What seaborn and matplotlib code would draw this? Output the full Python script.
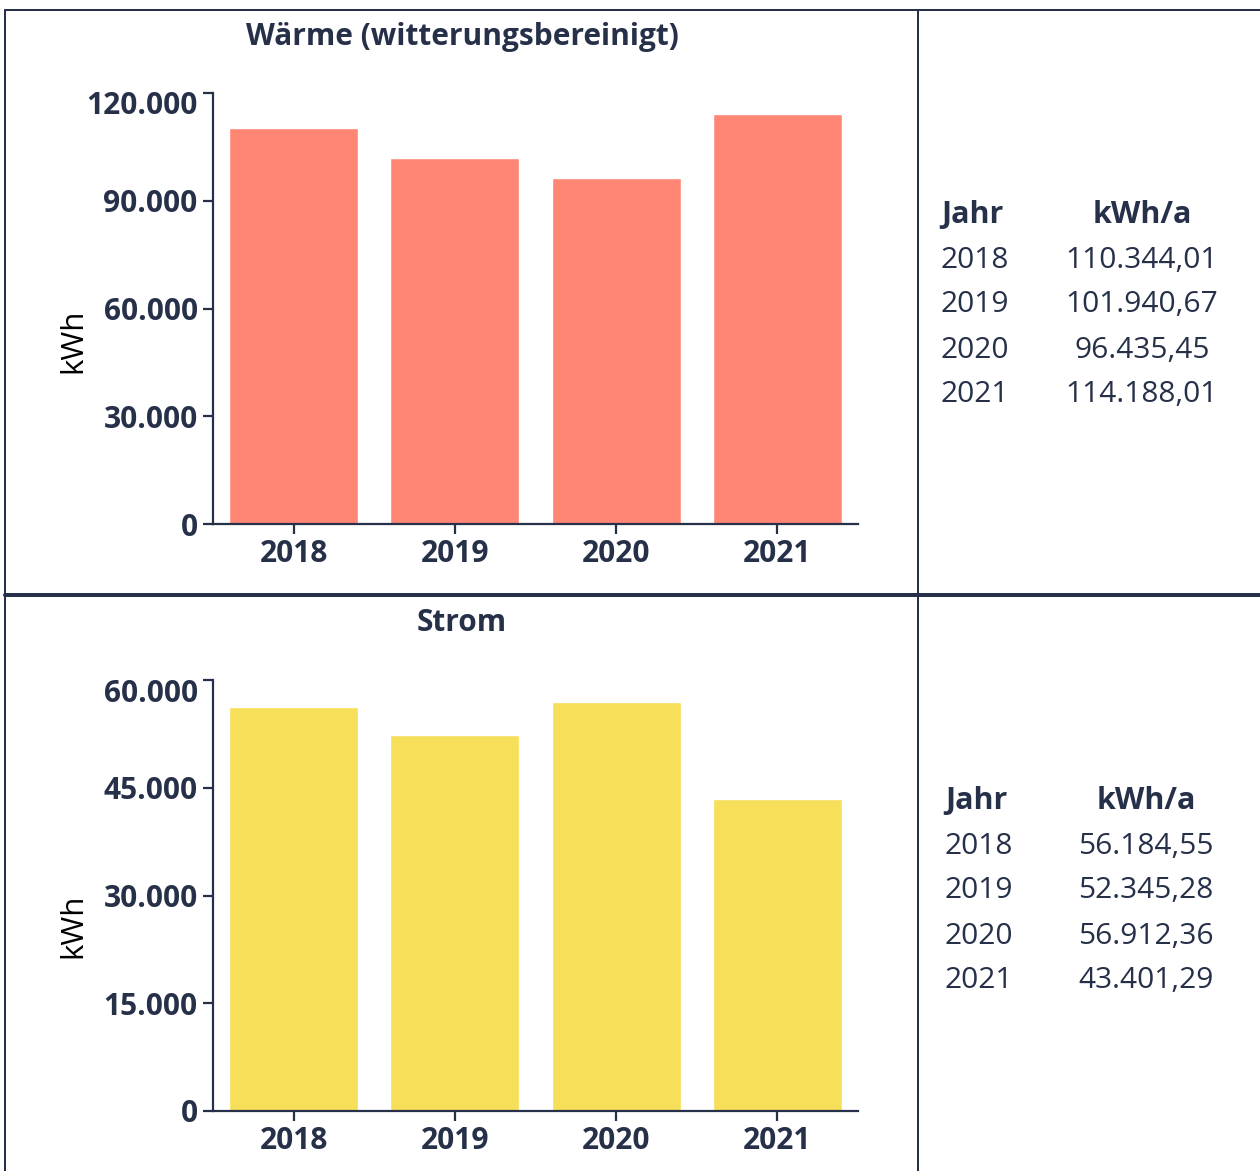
import matplotlib
matplotlib.use("Agg")
import matplotlib.pyplot as plt
import matplotlib.transforms as mtransforms
import seaborn as sns
import pandas as pd
from matplotlib.lines import Line2D
from matplotlib.ticker import FuncFormatter

years = ["2018", "2019", "2020", "2021"]
waerme = [110344.01, 101940.67, 96435.45, 114188.01]
strom = [56184.55, 52345.28, 56912.36, 43401.29]
waerme_ticks = [0, 30000, 60000, 90000, 120000]
strom_ticks = [0, 15000, 30000, 45000, 60000]
waerme_title = "Wärme (witterungsbereinigt)"
strom_title = "Strom"
ylabel = "kWh"
table_head = ["Jahr", "kWh/a"]

sns.set_theme(style="white")
plt.rcParams['font.family'] = ['Open Sans', 'DejaVu Sans']

NAVY = "#263049"
SALMON = "#FF8674"
YELLOW = "#F7DF5A"

W, H = 1260, 1171
fig = plt.figure(figsize=(W / 100, H / 100), dpi=100)


def fx(px):
    return px / W


def fy(py):
    return 1 - py / H


def de_fmt(v, dec=0):
    s = f"{v:,.{dec}f}"
    return s.replace(",", "X").replace(".", ",").replace("X", ".")


def panel(vals, ticks, color, title, top_px, bot_px, title_y, label_y, tbl_x, tbl_cx, tbl_y):
    ax = fig.add_axes([fx(213), fy(bot_px), fx(858 - 213), fy(top_px) - fy(bot_px)])
    df = pd.DataFrame({"year": years, "val": vals})
    sns.barplot(data=df, x="year", y="val", color=color, saturation=1, width=0.8, ax=ax)
    ax.set_xlim(-0.5, 3.5)
    ax.set_ylim(ticks[0], ticks[-1])
    ax.set_yticks(ticks)
    ax.yaxis.set_major_formatter(FuncFormatter(lambda v, p: de_fmt(v)))
    ax.set_xlabel("")
    ax.set_ylabel("")
    for s in ["top", "right"]:
        ax.spines[s].set_visible(False)
    for s in ["left", "bottom"]:
        ax.spines[s].set_color(NAVY)
        ax.spines[s].set_linewidth(1.6)
    ax.tick_params(axis="both", which="major", length=7, width=1.6, color=NAVY,
                   labelcolor=NAVY, labelsize=21.5, pad=4, left=True, bottom=True)
    fig.canvas.draw()
    for lab in ax.get_xticklabels() + ax.get_yticklabels():
        lab.set_fontweight("bold")
    ylabs = ax.get_yticklabels()
    top_lab = ylabs[-1]
    top_lab.set_transform(top_lab.get_transform() +
                          mtransforms.ScaledTranslation(0, -10 / 100, fig.dpi_scale_trans))
    fig.text(fx(462), fy(title_y), title, ha="center", va="center",
             fontsize=21.5, fontweight="bold", color=NAVY)
    fig.text(fx(73), fy(label_y), ylabel, ha="center", va="center", rotation=90,
             fontsize=22.5, color="black")
    # table
    fig.text(fx(tbl_x), fy(tbl_y), table_head[0], ha="left", va="center",
             fontsize=22, fontweight="bold", color=NAVY)
    fig.text(fx(tbl_cx), fy(tbl_y), table_head[1], ha="center", va="center",
             fontsize=22, fontweight="bold", color=NAVY)
    for i, (yr, v) in enumerate(zip(years, vals)):
        yy = tbl_y + 45 * (i + 1)
        fig.text(fx(tbl_x), fy(yy), yr, ha="left", va="center", fontsize=21.5, color=NAVY)
        fig.text(fx(tbl_cx), fy(yy), de_fmt(v, 2), ha="center", va="center",
                 fontsize=21.5, color=NAVY)
    return ax


panel(waerme, waerme_ticks, SALMON, waerme_title, 93, 524, 37, 341, 941, 1142, 215)
panel(strom, strom_ticks, YELLOW, strom_title, 680, 1111, 623, 926, 945, 1146, 801)

# table borders
lines = [
    ([fx(5), fx(1260)], [fy(10), fy(10)], 2),
    ([fx(5), fx(5)], [fy(10), fy(1171)], 2),
    ([fx(918), fx(918)], [fy(10), fy(1171)], 2),
    ([fx(5), fx(1260)], [fy(595), fy(595)], 4),
]
for xs, ys, lw in lines:
    fig.add_artist(Line2D(xs, ys, transform=fig.transFigure, color=NAVY, linewidth=lw * 0.72))

fig.savefig("out.png", dpi=100)
